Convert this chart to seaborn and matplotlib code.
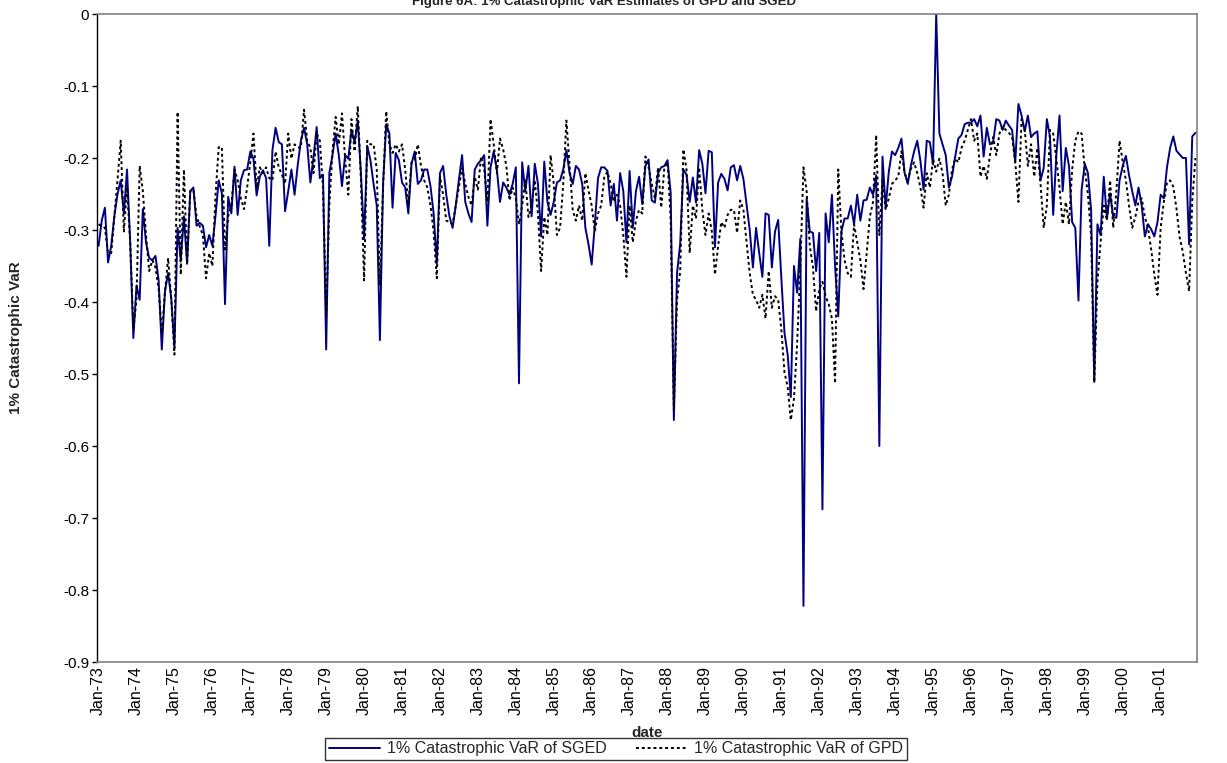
import numpy as np
import pandas as pd
import seaborn as sns
import matplotlib
matplotlib.use("Agg")
import matplotlib.pyplot as plt

# ---------------- data (monthly, Jan-73 .. Dec-01) ----------------
years = list(range(1973, 2002))
tick_labels = [f"Jan-{y % 100:02d}" for y in years]
y_ticks = [0, -0.1, -0.2, -0.3, -0.4, -0.5, -0.6, -0.7, -0.8, -0.9]
y_tick_labels = ["0", "-0.1", "-0.2", "-0.3", "-0.4", "-0.5", "-0.6", "-0.7", "-0.8", "-0.9"]

sged = [
    -0.322, -0.287, -0.269, -0.345, -0.322, -0.280, -0.250, -0.231, -0.277, -0.216, -0.317, -0.450,
    -0.377, -0.397, -0.271, -0.317, -0.339, -0.342, -0.336, -0.370, -0.466, -0.385, -0.360, -0.395,
    -0.463, -0.297, -0.342, -0.281, -0.347, -0.246, -0.241, -0.294, -0.290, -0.294, -0.324, -0.307,
    -0.322, -0.280, -0.231, -0.249, -0.403, -0.254, -0.277, -0.212, -0.279, -0.231, -0.217, -0.216,
    -0.191, -0.201, -0.252, -0.226, -0.217, -0.228, -0.322, -0.189, -0.158, -0.178, -0.181, -0.274,
    -0.246, -0.216, -0.251, -0.210, -0.176, -0.158, -0.181, -0.234, -0.199, -0.157, -0.228, -0.223,
    -0.466, -0.221, -0.196, -0.166, -0.196, -0.239, -0.196, -0.201, -0.161, -0.178, -0.148, -0.221,
    -0.312, -0.183, -0.203, -0.236, -0.266, -0.453, -0.236, -0.153, -0.166, -0.269, -0.193, -0.203,
    -0.234, -0.241, -0.277, -0.208, -0.191, -0.236, -0.231, -0.216, -0.216, -0.239, -0.277, -0.347,
    -0.221, -0.211, -0.251, -0.281, -0.297, -0.266, -0.230, -0.196, -0.261, -0.277, -0.289, -0.216,
    -0.208, -0.203, -0.196, -0.294, -0.213, -0.191, -0.216, -0.261, -0.234, -0.241, -0.251, -0.236,
    -0.213, -0.513, -0.206, -0.246, -0.211, -0.281, -0.208, -0.236, -0.309, -0.205, -0.261, -0.279,
    -0.261, -0.234, -0.231, -0.216, -0.189, -0.221, -0.236, -0.211, -0.216, -0.236, -0.297, -0.320,
    -0.348, -0.292, -0.228, -0.213, -0.213, -0.218, -0.266, -0.236, -0.287, -0.221, -0.246, -0.317,
    -0.218, -0.297, -0.246, -0.226, -0.264, -0.211, -0.202, -0.259, -0.262, -0.221, -0.213, -0.211,
    -0.203, -0.249, -0.564, -0.360, -0.319, -0.216, -0.223, -0.261, -0.227, -0.262, -0.189, -0.208,
    -0.249, -0.190, -0.192, -0.324, -0.234, -0.222, -0.229, -0.245, -0.213, -0.210, -0.231, -0.211,
    -0.229, -0.264, -0.300, -0.352, -0.297, -0.332, -0.365, -0.277, -0.279, -0.352, -0.302, -0.286,
    -0.367, -0.443, -0.473, -0.532, -0.350, -0.387, -0.312, -0.822, -0.256, -0.302, -0.304, -0.357,
    -0.304, -0.688, -0.277, -0.317, -0.251, -0.350, -0.420, -0.302, -0.284, -0.284, -0.266, -0.292,
    -0.251, -0.287, -0.259, -0.258, -0.241, -0.251, -0.224, -0.600, -0.198, -0.269, -0.219, -0.191,
    -0.196, -0.186, -0.173, -0.221, -0.236, -0.210, -0.191, -0.176, -0.204, -0.244, -0.176, -0.178,
    -0.209, 0.000, -0.166, -0.181, -0.196, -0.241, -0.226, -0.198, -0.173, -0.168, -0.153, -0.151,
    -0.151, -0.146, -0.156, -0.141, -0.198, -0.158, -0.181, -0.178, -0.146, -0.148, -0.161, -0.148,
    -0.155, -0.161, -0.206, -0.125, -0.141, -0.163, -0.141, -0.171, -0.166, -0.163, -0.231, -0.214,
    -0.146, -0.171, -0.279, -0.196, -0.141, -0.246, -0.186, -0.211, -0.289, -0.297, -0.398, -0.244,
    -0.208, -0.221, -0.272, -0.511, -0.292, -0.307, -0.226, -0.284, -0.249, -0.282, -0.283, -0.231,
    -0.211, -0.197, -0.224, -0.246, -0.266, -0.241, -0.266, -0.309, -0.292, -0.299, -0.309, -0.289,
    -0.251, -0.256, -0.213, -0.186, -0.170, -0.190, -0.195, -0.200, -0.200, -0.320, -0.170, -0.165,
]

gpd = [
    -0.292, -0.295, -0.297, -0.332, -0.332, -0.281, -0.230, -0.176, -0.302, -0.241, -0.317, -0.438,
    -0.397, -0.211, -0.246, -0.307, -0.357, -0.342, -0.352, -0.382, -0.443, -0.387, -0.339, -0.397,
    -0.473, -0.136, -0.362, -0.216, -0.347, -0.246, -0.244, -0.281, -0.295, -0.307, -0.367, -0.332,
    -0.350, -0.251, -0.185, -0.185, -0.327, -0.281, -0.266, -0.216, -0.231, -0.256, -0.271, -0.241,
    -0.206, -0.166, -0.241, -0.213, -0.221, -0.213, -0.228, -0.231, -0.191, -0.213, -0.223, -0.236,
    -0.166, -0.201, -0.181, -0.185, -0.186, -0.133, -0.176, -0.186, -0.221, -0.166, -0.176, -0.241,
    -0.418, -0.266, -0.191, -0.143, -0.181, -0.138, -0.201, -0.251, -0.146, -0.191, -0.128, -0.231,
    -0.370, -0.176, -0.181, -0.181, -0.216, -0.377, -0.241, -0.135, -0.181, -0.193, -0.181, -0.191,
    -0.181, -0.216, -0.266, -0.206, -0.203, -0.181, -0.211, -0.231, -0.241, -0.266, -0.302, -0.367,
    -0.226, -0.251, -0.287, -0.289, -0.292, -0.266, -0.240, -0.214, -0.236, -0.254, -0.266, -0.226,
    -0.244, -0.198, -0.216, -0.261, -0.146, -0.181, -0.221, -0.173, -0.188, -0.211, -0.259, -0.241,
    -0.256, -0.292, -0.266, -0.231, -0.282, -0.266, -0.231, -0.277, -0.357, -0.282, -0.307, -0.196,
    -0.236, -0.307, -0.297, -0.236, -0.148, -0.211, -0.272, -0.287, -0.266, -0.287, -0.221, -0.245,
    -0.266, -0.302, -0.277, -0.266, -0.226, -0.219, -0.236, -0.261, -0.251, -0.266, -0.307, -0.365,
    -0.266, -0.317, -0.287, -0.272, -0.277, -0.198, -0.213, -0.236, -0.256, -0.213, -0.269, -0.213,
    -0.206, -0.287, -0.549, -0.397, -0.357, -0.188, -0.216, -0.332, -0.266, -0.284, -0.213, -0.272,
    -0.307, -0.277, -0.302, -0.362, -0.322, -0.289, -0.297, -0.279, -0.272, -0.272, -0.304, -0.259,
    -0.272, -0.317, -0.360, -0.390, -0.397, -0.408, -0.390, -0.423, -0.357, -0.408, -0.392, -0.397,
    -0.438, -0.498, -0.518, -0.564, -0.534, -0.458, -0.352, -0.213, -0.246, -0.322, -0.352, -0.413,
    -0.382, -0.372, -0.392, -0.403, -0.423, -0.513, -0.216, -0.302, -0.342, -0.360, -0.365, -0.292,
    -0.317, -0.342, -0.382, -0.332, -0.282, -0.261, -0.168, -0.307, -0.231, -0.272, -0.256, -0.236,
    -0.231, -0.226, -0.191, -0.221, -0.231, -0.215, -0.206, -0.221, -0.241, -0.269, -0.221, -0.241,
    -0.201, -0.219, -0.201, -0.221, -0.266, -0.251, -0.216, -0.201, -0.206, -0.186, -0.176, -0.161,
    -0.146, -0.176, -0.166, -0.226, -0.211, -0.229, -0.196, -0.171, -0.196, -0.166, -0.156, -0.161,
    -0.165, -0.171, -0.206, -0.261, -0.146, -0.161, -0.211, -0.181, -0.226, -0.186, -0.236, -0.297,
    -0.266, -0.161, -0.166, -0.201, -0.241, -0.292, -0.261, -0.292, -0.216, -0.176, -0.163, -0.166,
    -0.216, -0.251, -0.307, -0.511, -0.372, -0.317, -0.266, -0.287, -0.231, -0.297, -0.246, -0.176,
    -0.206, -0.231, -0.266, -0.297, -0.282, -0.261, -0.256, -0.282, -0.297, -0.327, -0.362, -0.390,
    -0.297, -0.261, -0.234, -0.231, -0.240, -0.270, -0.310, -0.330, -0.360, -0.385, -0.260, -0.200,
]

series_names = ["1% Catastrophic VaR of SGED", "1% Catastrophic VaR of GPD"]
title_text = "Figure 6A: 1% Catastrophic VaR Estimates of GPD and SGED"

# ---------------- plotting ----------------
sns.set_theme(style="white")
plt.rcParams["font.family"] = ["Liberation Sans", "DejaVu Sans"]

W, H = 1227, 763
fig = plt.figure(figsize=(W / 100, H / 100), dpi=100)
fig.patch.set_facecolor("white")

left, right, top, bottom = 97, 1197, 14, 662
ax = fig.add_axes([left / W, 1 - bottom / H, (right - left) / W, (bottom - top) / H])

df = pd.DataFrame({"month": np.arange(len(sged)), "sged": sged, "gpd": gpd})

sns.lineplot(data=df, x="month", y="sged", ax=ax, color="#000080", linewidth=1.4,
             label=series_names[0])
sns.lineplot(data=df, x="month", y="gpd", ax=ax, color="black", linewidth=1.4,
             linestyle=(0, (1.5, 1.5)), label=series_names[1])

ax.set_xlim(-0.5, len(sged) - 0.5)
ax.set_ylim(-0.9, 0)
ax.set_xticks(np.arange(0, len(sged), 12))
ax.set_xticklabels(tick_labels, rotation=90, fontsize=11.5)
ax.set_yticks(y_ticks)
ax.set_yticklabels(y_tick_labels, fontsize=11)
ax.set_xlabel("")
ax.set_ylabel("")
ax.tick_params(axis="x", length=0, pad=3, colors="black")
ax.tick_params(axis="y", length=3.5, width=1, direction="out", pad=2, colors="black", left=True)
ax.grid(False)
ax.set_facecolor("white")
for side in ["top", "right", "bottom"]:
    ax.spines[side].set_color("#808080")
    ax.spines[side].set_linewidth(1.2)
ax.spines["left"].set_color("black")
ax.spines["left"].set_linewidth(1.0)

handles, labels = ax.get_legend_handles_labels()
ax.get_legend().remove()
leg = fig.legend(handles, labels, loc="center", bbox_to_anchor=(616 / W, 1 - 749 / H),
                 ncol=2, frameon=True, fancybox=False, edgecolor="black",
                 fontsize=11.5, borderpad=0.25, handlelength=3.2, handletextpad=0.45,
                 columnspacing=1.8, borderaxespad=0)
leg.get_frame().set_linewidth(1.0)

fig.text(604 / W, 1 - 5 / H, title_text, ha="center", va="baseline",
         fontsize=9.5, fontweight="bold")
fig.text(16 / W, 1 - (top + bottom) / 2 / H, "1% Catastrophic VaR", rotation=90,
         ha="center", va="center", fontsize=11, fontweight="bold")
fig.text((left + right) / 2 / W, 1 - 733 / H, "date", ha="center", va="center",
         fontsize=11, fontweight="bold")

fig.savefig("out.png", dpi=100, facecolor="white")
